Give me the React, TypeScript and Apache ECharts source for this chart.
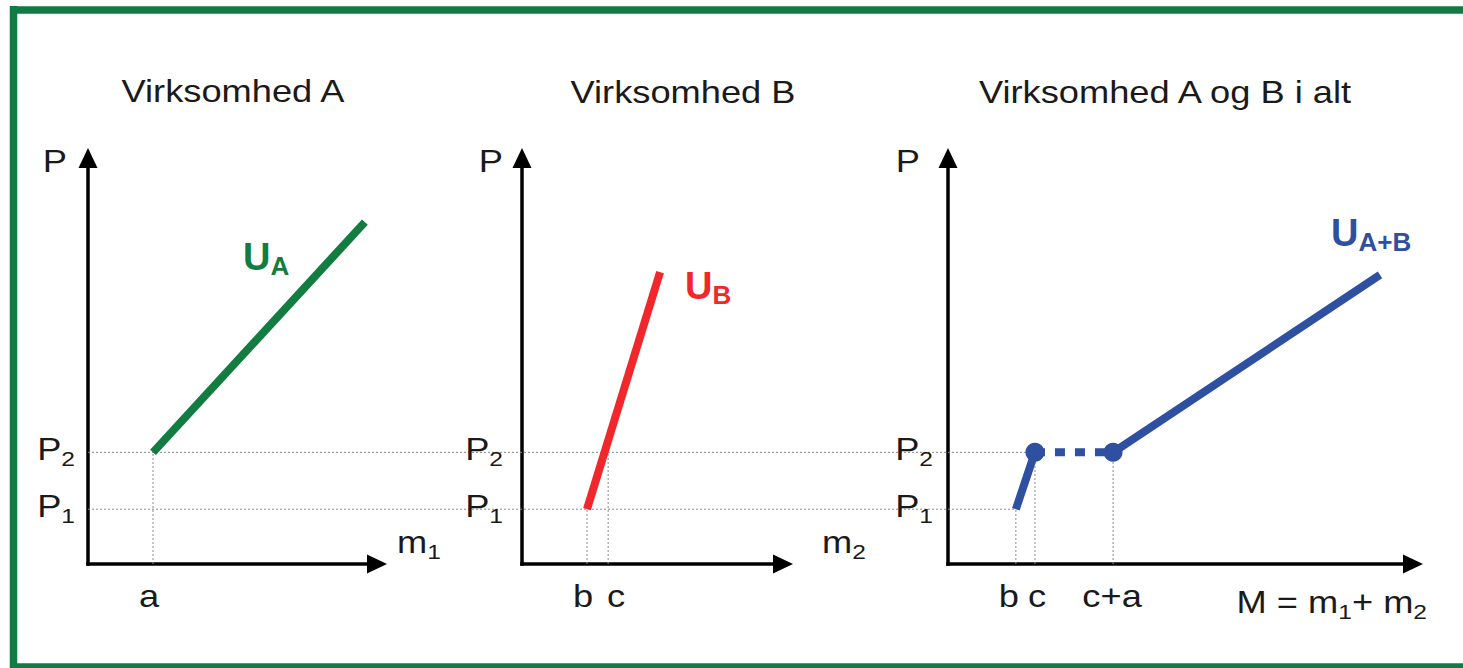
import React, { useEffect, useRef } from 'react';
import * as echarts from 'echarts';

// ---------- data ----------
const TITLES = ['Virksomhed A', 'Virksomhed B', 'Virksomhed A og B i alt'];
const P1 = 13.5;
const P2 = 27.5;
const PRICE_LEVELS = [P1, P2];
const PRICE_SUBS = ['1', '2'];

// Virksomhed A
const SUPPLY_A = [[22.5, P2], [95.8, 84.2]];
const TICKS_A = [22.5];
const TICK_LEVELS_A = [P2];
const TICK_LABELS_A = ['a'];

// Virksomhed B
const SUPPLY_B = [[24.9, P1], [52.9, 71.9]];
const TICKS_B = [24.9, 33.0];
const TICK_LEVELS_B = [P1, P2];
const TICK_LABELS_B = ['b', 'c'];

// Virksomhed A og B i alt
const SUPPLY_AB_STEEP = [[14.6, P1], [18.7, P2]];
const SUPPLY_AB_FLAT = [[18.7, P2], [35.5, P2]];
const SUPPLY_AB_UPPER = [[35.5, P2], [92.9, 71.2]];
const KINKS_AB = [[18.7, P2], [35.5, P2]];
const TICKS_AB = [14.6, 18.7, 35.5];
const TICK_LEVELS_AB = [P1, P2, P2];
const TICK_LABELS_AB = ['b', 'c', 'c+a'];
const PRICE_GUIDE_END_AB = [14.6, 18.7];

const X_NAMES = ['{n|m}{s|1}', '{n|m}{s|2}', '{n|M = m}{s|1}{n|+ m}{s|2}'];
const CURVE_NAMES = ['{u|U}{b|A}', '{u|U}{b|B}', '{u|U}{b|A+B}'];

// ---------- styles / layout ----------
const GREEN = '#127c41';
const RED = '#f0282c';
const BLUE = '#2f50a0';
const BORDER = '#127a44';
const INK = '#1a1a1a';
const GUIDE = '#8a8a8a';
const FONT = '"Liberation Sans", Arial, Helvetica, sans-serif';
const FS = 31;
const SX = 1.17;

const GRIDS = [
  { left: 88, width: 289 },
  { left: 522, width: 261 },
  { left: 948, width: 465 },
];
const GRID_TOP = 158;
const GRID_HEIGHT = 406;
const TITLE_POS = [[233, 91], [683, 92], [1165, 92]];
const P_TOP_GAP = [21, 19, 28];
const P_SUB_GAP = [13, 19, 15];
const TICK_DX = [[-4], [-4, 8], [-7, 2, -1]];
const CURVE_LABEL_POS = [[243, 257], [685, 286], [1331, 233]];

const TICKS = [TICKS_A, TICKS_B, TICKS_AB];
const TICK_LEVELS = [TICK_LEVELS_A, TICK_LEVELS_B, TICK_LEVELS_AB];
const TICK_LABELS = [TICK_LABELS_A, TICK_LABELS_B, TICK_LABELS_AB];

const axisCfg = (i: number) => ({
  gridIndex: i,
  type: 'value',
  min: 0,
  max: 100,
  axisLine: {
    show: true,
    onZero: false,
    symbol: ['none', 'triangle'],
    symbolSize: [19, 20],
    lineStyle: { color: '#000', width: 3.5, cap: 'square' },
  },
  axisTick: { show: false },
  axisLabel: { show: false },
  splitLine: { show: false },
});

const lineSeries = (i: number, data: number[][], color: string, extra: any = {}) => ({
  type: 'line',
  xAxisIndex: i,
  yAxisIndex: i,
  data,
  symbol: 'none',
  silent: true,
  z: 3,
  lineStyle: { color, width: 8, cap: 'butt', ...extra },
});

const richText = (text: string, x: number, y: number, align: string, color: string, scale: number) => ({
  type: 'text',
  x,
  y,
  scaleX: scale,
  z: 10,
  silent: true,
  style: {
    text,
    fill: color,
    fontSize: FS,
    fontFamily: FONT,
    align,
    textAlign: align,
    verticalAlign: 'middle',
    textVerticalAlign: 'middle',
    rich: {
      n: { fontSize: FS, fontFamily: FONT, lineHeight: 40, fill: color },
      p: { fontSize: FS, fontFamily: FONT, lineHeight: 40, fill: color },
      s: { fontSize: 21, fontFamily: FONT, lineHeight: 22, verticalAlign: 'bottom', fill: color },
      u: { fontSize: 38, fontFamily: FONT, fontWeight: 'bold', lineHeight: 44, fill: color },
      b: { fontSize: 26, fontFamily: FONT, fontWeight: 'bold', lineHeight: 24, verticalAlign: 'bottom', fill: color },
    },
  },
});

export default function App() {
  const ref = useRef<HTMLDivElement>(null);

  useEffect(() => {
    if (!ref.current) return;
    const chart = echarts.init(ref.current, null, { renderer: 'svg' });

    const series: any[] = [];
    // vertical guides
    TICKS.forEach((ticks, g) => {
      ticks.forEach((t, k) => {
        series.push({
          type: 'line',
          xAxisIndex: g,
          yAxisIndex: g,
          data: [[t, 0], [t, TICK_LEVELS[g][k]]],
          symbol: 'none',
          silent: true,
          z: 1,
          lineStyle: { color: GUIDE, width: 1, type: [2, 2] },
        });
      });
    });
    series.push(lineSeries(0, SUPPLY_A, GREEN));
    series.push(lineSeries(1, SUPPLY_B, RED));
    series.push(lineSeries(2, SUPPLY_AB_STEEP, BLUE));
    series.push(lineSeries(2, SUPPLY_AB_FLAT, BLUE, { type: [10, 10] }));
    series.push(lineSeries(2, SUPPLY_AB_UPPER, BLUE));
    series.push({
      type: 'scatter',
      xAxisIndex: 2,
      yAxisIndex: 2,
      data: KINKS_AB,
      symbolSize: 19,
      silent: true,
      z: 4,
      itemStyle: { color: BLUE, opacity: 1 },
    });

    chart.setOption({
      animation: false,
      backgroundColor: '#ffffff',
      grid: GRIDS.map((g) => ({ left: g.left, width: g.width, top: GRID_TOP, height: GRID_HEIGHT })),
      xAxis: [0, 1, 2].map(axisCfg),
      yAxis: [0, 1, 2].map(axisCfg),
      series,
    });

    const px = (g: number, p: number[]) => chart.convertToPixel({ gridIndex: g } as any, p) as unknown as number[];
    const graphics: any[] = [];

    // frame: top, left and bottom edges (right edge lies outside the picture)
    const frame = [
      [10, 10, 1463, 10],
      [13.5, 6, 13.5, 668],
      [10, 667, 1463, 667],
    ];
    frame.forEach(([x1, y1, x2, y2]) => {
      graphics.push({
        type: 'line',
        silent: true,
        z: 0,
        shape: { x1, y1, x2, y2 },
        style: { stroke: BORDER, lineWidth: 7.5 },
      });
    });

    // horizontal price guides spanning all panels
    PRICE_LEVELS.forEach((p, k) => {
      const s = px(0, [0, p]);
      const e = px(2, [PRICE_GUIDE_END_AB[k], p]);
      graphics.push({
        type: 'line',
        silent: true,
        z: 1,
        shape: { x1: s[0], y1: s[1], x2: e[0], y2: e[1] },
        style: { stroke: GUIDE, lineWidth: 1, lineDash: [2, 2] },
      });
    });

    // titles
    TITLES.forEach((t, g) => {
      graphics.push(richText(t, TITLE_POS[g][0], TITLE_POS[g][1], 'center', INK, SX));
    });

    [0, 1, 2].forEach((g) => {
      const top = px(g, [0, 100]);
      const origin = px(g, [0, 0]);
      const end = px(g, [100, 0]);
      const tipX = end[0] + 10;
      // "P" axis name
      graphics.push(richText('P', top[0] - P_TOP_GAP[g], 161, 'right', INK, SX));
      // price labels
      PRICE_LEVELS.forEach((p, k) => {
        const pt = px(g, [0, p]);
        graphics.push(richText(`{p|P}{s|${PRICE_SUBS[k]}}`, pt[0] - P_SUB_GAP[g], pt[1] - 3, 'right', INK, SX));
      });
      // tick labels
      TICKS[g].forEach((t, k) => {
        const pt = px(g, [t, 0]);
        graphics.push(richText(TICK_LABELS[g][k], pt[0] + TICK_DX[g][k], 596, 'center', INK, SX));
      });
      // x axis names
      if (g === 0) graphics.push(richText(X_NAMES[0], tipX + 10, origin[1] - 22, 'left', INK, SX));
      if (g === 1) graphics.push(richText(X_NAMES[1], tipX + 29, origin[1] - 22, 'left', INK, SX));
      if (g === 2) graphics.push(richText(X_NAMES[2], tipX + 4, origin[1] + 38, 'right', INK, SX));
    });

    // curve labels
    const curveColors = [GREEN, RED, BLUE];
    CURVE_NAMES.forEach((t, g) => {
      graphics.push(richText(t, CURVE_LABEL_POS[g][0], CURVE_LABEL_POS[g][1], 'left', curveColors[g], 1));
    });

    chart.setOption({ graphic: graphics });

    return () => chart.dispose();
  }, []);

  return (
    <div
      ref={ref}
      style={{ position: 'absolute', left: 0, top: 0, width: 1463, height: 668, background: '#fff' }}
    />
  );
}
